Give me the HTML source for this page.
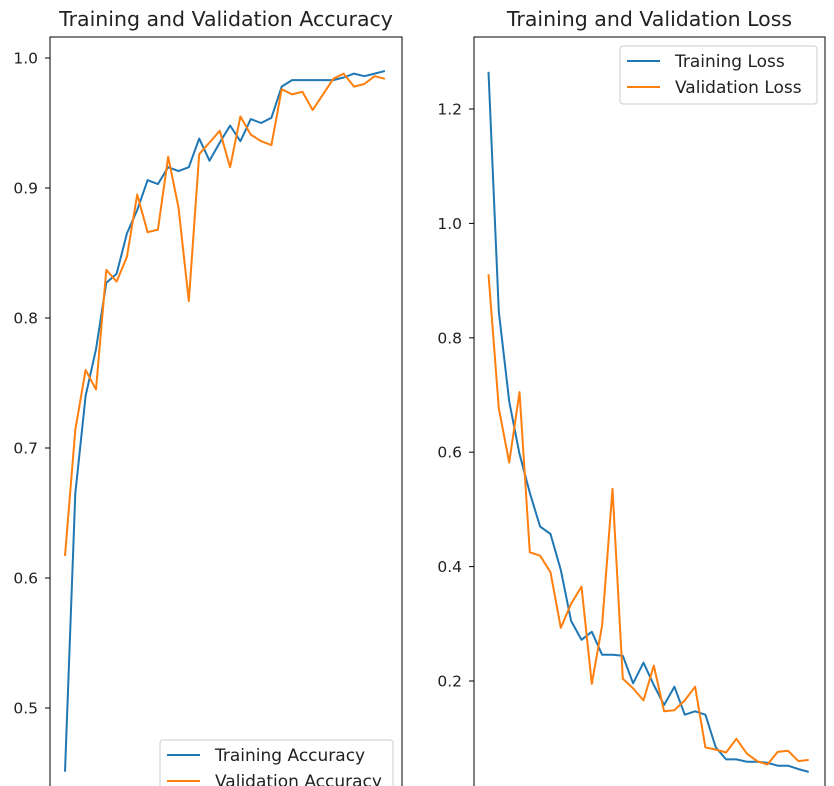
<!DOCTYPE html>
<html><head><meta charset="utf-8"><style>
html,body{margin:0;background:#fff;width:834px;height:786px;overflow:hidden;}
svg{display:block;font-family:"DejaVu Sans","Liberation Sans",sans-serif;overflow:hidden;}
</style></head><body>
<svg id="chart" width="834" height="786" viewBox="0 0 834 786" xmlns="http://www.w3.org/2000/svg"></svg>
<script>
const epochs = Array.from({length:32},(_, i)=>i);
const trainAcc = [0.451,0.665,0.740,0.776,0.827,0.834,0.865,0.883,0.906,0.903,0.916,0.913,0.916,0.938,0.921,0.935,0.948,0.936,0.953,0.950,0.954,0.978,0.983,0.983,0.983,0.983,0.983,0.985,0.988,0.986,0.988,0.990];
const valAcc = [0.617,0.714,0.760,0.745,0.837,0.828,0.847,0.895,0.866,0.868,0.924,0.885,0.813,0.926,0.935,0.944,0.916,0.955,0.941,0.936,0.933,0.976,0.972,0.974,0.960,0.972,0.984,0.988,0.978,0.980,0.986,0.984];
const trainLoss = [1.265,0.846,0.689,0.597,0.529,0.470,0.457,0.394,0.305,0.272,0.286,0.246,0.246,0.244,0.196,0.232,0.193,0.158,0.190,0.141,0.147,0.141,0.084,0.063,0.063,0.059,0.059,0.057,0.052,0.052,0.046,0.041];
const valLoss = [0.911,0.677,0.582,0.705,0.425,0.419,0.390,0.293,0.335,0.365,0.195,0.297,0.536,0.204,0.187,0.166,0.227,0.147,0.149,0.166,0.190,0.084,0.080,0.075,0.099,0.073,0.060,0.054,0.076,0.078,0.060,0.062];
const accTicks = [0.5,0.6,0.7,0.8,0.9,1.0];
const lossTicks = [0.2,0.4,0.6,0.8,1.0,1.2];

const NS="http://www.w3.org/2000/svg";
const svg=document.getElementById('chart');
function mk(tag,attrs,parent){const e=document.createElementNS(NS,tag);for(const k in attrs)e.setAttribute(k,attrs[k]);(parent||svg).appendChild(e);return e;}

function panel(cfg){
  const g=mk('g',{});
  
  
  const xs=i=>cfg.x0+i*cfg.dx;
  const ys=v=>cfg.yRef+(cfg.vRef-v)*cfg.ppu;
  const t=mk('text',{x:(cfg.left+cfg.right)/2,y:26,'text-anchor':'middle','font-size':20.5,fill:'#222'},g);
  t.textContent=cfg.title;
  
  
  cfg.ticks.forEach(v=>{
    const y=ys(v);
    const tk=mk('line',{x1:cfg.left-5,x2:cfg.left,y1:y,y2:y,stroke:'#000','stroke-width':1},g);
    
    
    const lb=mk('text',{x:cfg.left-12,y:y+5.5,'text-anchor':'end','font-size':15.5,fill:'#222'},g);
    lb.textContent=v.toFixed(1);
    
    
  });
  const series=[[cfg.s1,'#1f77b4',cfg.n1],[cfg.s2,'#ff7f0e',cfg.n2]];
  series.forEach(([s,c,n])=>{
    const p=mk('polyline',{points:s.map((v,i)=>xs(epochs[i]).toFixed(1)+','+ys(v).toFixed(1)).join(' '),fill:'none',stroke:c,'stroke-width':2,'stroke-linejoin':'round'},g);
    
    
  });
  const fr=mk('rect',{x:cfg.left,y:37,width:cfg.right-cfg.left,height:760,fill:'none',stroke:'#000','stroke-width':1},g);
  
  
  const L=cfg.legend;
  const lg=mk('g',{},g);
  
  
  mk('rect',{x:L.x,y:L.y,width:L.w,height:58,rx:3,fill:'#fff','fill-opacity':0.8,stroke:'#ccc'},lg);
  series.forEach(([s,c,n],k)=>{
    const yy=L.y+15+k*26;
    mk('line',{x1:L.x+7,x2:L.x+40,y1:yy,y2:yy,stroke:c,'stroke-width':2},lg);
    const tx=mk('text',{x:L.x+55,y:yy+6,'font-size':17,fill:'#222'},lg);
    tx.textContent=n;
    
    
  });
}
panel({name:'accuracy-panel',title:'Training and Validation Accuracy',left:50,right:402,x0:65,dx:10.32,yRef:58,vRef:1.0,ppu:1300,ticks:accTicks,s1:trainAcc,s2:valAcc,n1:'Training Accuracy',n2:'Validation Accuracy',legend:{x:160,y:740,w:233}});
panel({name:'loss-panel',title:'Training and Validation Loss',left:474,right:825,x0:488.5,dx:10.33,yRef:681,vRef:0.2,ppu:572,ticks:lossTicks,s1:trainLoss,s2:valLoss,n1:'Training Loss',n2:'Validation Loss',legend:{x:620,y:46,w:197}});
</script>
</body></html>
